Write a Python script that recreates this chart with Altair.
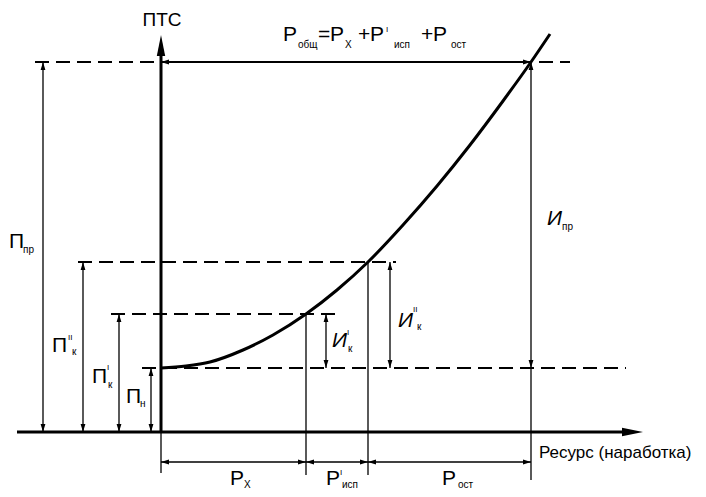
import altair as alt
import pandas as pd

# ---- key values of the scheme (resource units / ПТС units) ----
R_X = 145      # end of P_X
R_ISP = 207    # end of P'_исп
R_PR = 370     # end of P_ост (limit)
P_N = 64       # П_н
P_K1 = 118     # П'_к
P_K2 = 170     # П''_к
P_PR = 370     # П_пр

# wear curve
curve_x = [0, 25, 49, 82, 112, 145, 176, 207, 242, 276, 309, 342, 370, 389]
curve_y = [64, 66, 70, 82, 97, 118, 142, 170, 207, 246, 287, 331, 370, 398]

# dashed levels: y, x-start, x-end
dash_y = [P_PR, P_K2, P_K1, P_N]
dash_x1 = [-126, -83, -50, -19]
dash_x2 = [409, 235, 175, 465]

# thin segments: x1, y1, x2, y2
thin_x1 = [-118, -78, -42, -10, 165, 229, R_X, R_ISP, R_PR, 0, 0]
thin_y1 = [0, 0, 0, 0, P_N, P_N, -43, -43, -48, -41, -30]
thin_x2 = [-118, -78, -42, -10, 165, 229, R_X, R_ISP, R_PR, 0, R_PR]
thin_y2 = [P_PR, P_K2, P_K1, P_N, P_K1, P_K2, P_K1, P_K2, P_PR, 0, -30]

# medium segment (total resource dimension)
med_x1, med_y1, med_x2, med_y2 = [0], [P_PR], [R_PR], [P_PR]

# thick axes
axis_x1 = [-144, 0]
axis_y1 = [0, 0]
axis_x2 = [470, 0]
axis_y2 = [0, 380]

# small arrowheads: tip x, tip y, direction (0 up, 90 right, 180 down, 270 left)
arr_x = [-118, -118, -78, -78, -42, -42, -10, -10, 0, R_PR, R_PR, R_PR,
         165, 165, 229, 229, 0, R_X, R_X, R_ISP, R_ISP, R_PR]
arr_y = [P_PR, 0, P_K2, 0, P_K1, 0, P_N, 0, P_PR, P_PR, P_PR, P_N,
         P_K1, P_N, P_K2, P_N, -30, -30, -30, -30, -30, -30]
arr_a = [0, 180, 0, 180, 0, 180, 0, 180, 270, 90, 0, 180,
         0, 180, 0, 180, 270, 90, 270, 90, 270, 90]

# big arrowheads of the axes
big_x = [482, 0]
big_y = [0, 397]
big_a = [90, 0]

# text pieces (left aligned, baseline): text, x, y, font size
txt_t = ["P", "общ", "=", "P", "X", "+", "P", "I", "исп", "+", "P", "ост",
         "П", "пр", "П", "II", "к", "П", "I", "к", "П", "н",
         "P", "X", "P", "I", "исп", "P", "ост",
         "Ресурс (наработка)",
         "пр", "II", "к", "I", "к"]
txt_x = [122, 137, 157, 169, 184, 197, 209, 225, 233, 260, 272, 290,
         -152, -138, -109, -93, -89, -69, -54, -53, -35, -21,
         69, 83, 165, 179, 181, 281, 297,
         378,
         401, 252, 256, 186, 187]
txt_y = [391, 384, 391, 391, 384, 391, 391, 400, 384, 391, 391, 384,
         184, 179, 80, 92, 77, 49, 62, 44, 29, 25,
         -53, -56, -53, -43, -56, -53, -56,
         -26,
         202, 120, 102, 97, 80]
txt_s = [21, 10, 21, 21, 10, 21, 21, 8, 10, 21, 21, 10,
         21, 10, 21, 8, 10, 21, 8, 10, 21, 10,
         21, 10, 21, 8, 10, 21, 10,
         17,
         10, 8, 10, 8, 10]

# italic И labels
it_t = ["И", "И", "И"]
it_x = [386, 237, 171]
it_y = [207, 105, 85]

# axis title of ПТС (centred)
ptc_t, ptc_x, ptc_y = ["ПТС"], [1], [406]

FONT = "Liberation Sans"

xs = alt.Scale(domain=[-153, 537], nice=False, zero=False)
ys = alt.Scale(domain=[-57, 424], nice=False, zero=False)


def seg_layer(x1, y1, x2, y2, width, dash=None):
    df = pd.DataFrame({"x": x1, "y": y1, "x2": x2, "y2": y2})
    kw = dict(color="black", strokeWidth=width)
    if dash:
        kw["strokeDash"] = dash
    return alt.Chart(df).mark_rule(**kw).encode(
        x=alt.X("x:Q", scale=xs, axis=None),
        y=alt.Y("y:Q", scale=ys, axis=None),
        x2="x2:Q", y2="y2:Q")


dashed = seg_layer(dash_x1, dash_y, dash_x2, dash_y, 1.8, [14, 7])
thin = seg_layer(thin_x1, thin_y1, thin_x2, thin_y2, 1.3)
medium = seg_layer(med_x1, med_y1, med_x2, med_y2, 1.8)
axes = seg_layer(axis_x1, axis_y1, axis_x2, axis_y2, 3)

curve = alt.Chart(pd.DataFrame({"x": curve_x, "y": curve_y})).mark_line(
    color="black", strokeWidth=3, interpolate="monotone").encode(
    x=alt.X("x:Q", scale=xs, axis=None),
    y=alt.Y("y:Q", scale=ys, axis=None))

small_arrows = alt.Chart(pd.DataFrame({"x": arr_x, "y": arr_y, "a": arr_a})).mark_point(
    shape="M0,0L-0.3,1L0.3,1Z", filled=True, color="black", opacity=1,
    size=256, strokeWidth=0).encode(
    x=alt.X("x:Q", scale=xs, axis=None),
    y=alt.Y("y:Q", scale=ys, axis=None),
    angle=alt.Angle("a:Q", scale=None))

big_arrows = alt.Chart(pd.DataFrame({"x": big_x, "y": big_y, "a": big_a})).mark_point(
    shape="M0,0L-0.2,1L0.2,1Z", filled=True, color="black", opacity=1,
    size=1764, strokeWidth=0).encode(
    x=alt.X("x:Q", scale=xs, axis=None),
    y=alt.Y("y:Q", scale=ys, axis=None),
    angle=alt.Angle("a:Q", scale=None))

texts = alt.Chart(pd.DataFrame({"t": txt_t, "x": txt_x, "y": txt_y, "s": txt_s})).mark_text(
    align="left", baseline="alphabetic", font=FONT, color="black").encode(
    x=alt.X("x:Q", scale=xs, axis=None),
    y=alt.Y("y:Q", scale=ys, axis=None),
    text="t:N",
    size=alt.Size("s:Q", scale=None))

italics = alt.Chart(pd.DataFrame({"t": it_t, "x": it_x, "y": it_y})).mark_text(
    align="left", baseline="alphabetic", font=FONT, fontStyle="italic",
    fontSize=21, color="black").encode(
    x=alt.X("x:Q", scale=xs, axis=None),
    y=alt.Y("y:Q", scale=ys, axis=None),
    text="t:N")

ptc = alt.Chart(pd.DataFrame({"t": ptc_t, "x": ptc_x, "y": ptc_y})).mark_text(
    align="center", baseline="alphabetic", font=FONT, fontSize=19, color="black").encode(
    x=alt.X("x:Q", scale=xs, axis=None),
    y=alt.Y("y:Q", scale=ys, axis=None),
    text="t:N")

chart = alt.layer(dashed, thin, medium, axes, curve, small_arrows, big_arrows,
                  texts, italics, ptc).properties(
    width=690, height=481, padding=0, autosize="none", background="white"
).configure_view(stroke=None)

chart.save("out.html", embed_options={"renderer": "svg", "actions": False})
